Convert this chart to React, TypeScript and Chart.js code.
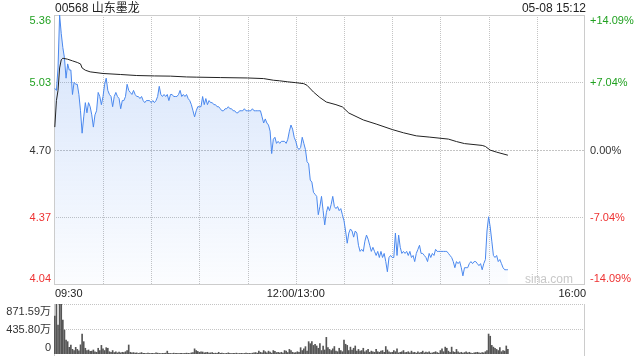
import React, { useEffect, useRef } from "react";
import { Chart, registerables } from "chart.js";

Chart.register(...registerables);

const FONT = '"Liberation Sans", Arial, Helvetica, "Noto Sans CJK SC", sans-serif';

const TITLE = "00568 山东墨龙";
const STAMP = "05-08 15:12";
const WATERMARK = "sina.com";

// minutes since 09:30 (lunch break removed)
const TIME_TICKS = [0, 30, 60, 90, 120, 150, 180, 210, 240, 270, 300, 330];
const TIME_LABELS = ["09:30", "", "", "", "", "12:00/13:00", "", "", "", "", "", "16:00"];

const PRICE_TICKS = [5.36, 5.03, 4.7, 4.37, 4.04];
const PRICE_LABELS = ["5.36", "5.03", "4.70", "4.37", "4.04"];
const PCT_LABELS = ["+14.09%", "+7.04%", "0.00%", "-7.04%", "-14.09%"];
const PREV_CLOSE = 4.7;

const VOL_TICKS = [871.59, 435.8, 0];
const VOL_LABELS = ["871.59万", "435.80万", "0"];

// one price per minute from 09:30 to 15:12
const prices = [
  5.00, 4.99, 5.10, 5.36, 5.27, 5.20, 5.15, 5.05, 5.12, 5.09,
  5.09, 4.97, 5.03, 5.02, 5.02, 4.97, 4.89, 4.78, 4.86, 4.93,
  4.88, 4.93, 4.91, 4.87, 4.81, 4.87, 4.89, 4.98, 4.96, 4.92,
  4.96, 5.02, 5.05, 4.99, 4.97, 4.96, 4.91, 4.96, 4.98, 4.96,
  4.95, 4.90, 4.94, 4.94, 4.96, 5.02, 4.99, 4.98, 4.97, 4.99,
  4.97, 4.96, 4.96, 4.95, 4.96, 4.94, 4.93, 4.94, 4.94, 4.94,
  4.93, 4.94, 4.93, 4.94, 4.96, 5.01, 4.97, 4.96, 4.97, 4.96,
  4.97, 4.94, 4.97, 4.97, 4.96, 4.96, 4.96, 4.97, 4.99, 4.96,
  4.97, 4.96, 4.97, 4.95, 4.94, 4.92, 4.89, 4.86, 4.89, 4.91,
  4.91, 4.91, 4.96, 4.92, 4.95, 4.92, 4.94, 4.93, 4.93, 4.92,
  4.92, 4.91, 4.91, 4.90, 4.89, 4.89, 4.90, 4.90, 4.91, 4.90,
  4.90, 4.89, 4.89, 4.88, 4.88, 4.89, 4.89, 4.89, 4.90, 4.89,
  4.89, 4.89, 4.89, 4.90, 4.89, 4.89, 4.89, 4.89, 4.89, 4.86,
  4.83, 4.85, 4.83, 4.82, 4.79, 4.68, 4.75, 4.76, 4.73, 4.74,
  4.73, 4.74, 4.74, 4.74, 4.73, 4.75, 4.79, 4.82, 4.80, 4.76,
  4.74, 4.71, 4.70, 4.71, 4.76, 4.73, 4.70, 4.64, 4.63, 4.55,
  4.54, 4.49, 4.48, 4.47, 4.38, 4.42, 4.47, 4.40, 4.33, 4.39,
  4.42, 4.40, 4.43, 4.47, 4.42, 4.41, 4.42, 4.40, 4.41, 4.38,
  4.35, 4.30, 4.24, 4.29, 4.31, 4.30, 4.27, 4.30, 4.29, 4.23,
  4.20, 4.21, 4.20, 4.25, 4.28, 4.26, 4.23, 4.20, 4.22, 4.20,
  4.18, 4.20, 4.17, 4.20, 4.17, 4.19, 4.15, 4.10, 4.17, 4.18,
  4.17, 4.17, 4.29, 4.18, 4.28, 4.22, 4.19, 4.20, 4.19, 4.20,
  4.18, 4.20, 4.17, 4.18, 4.15, 4.19, 4.21, 4.23, 4.19, 4.19,
  4.18, 4.17, 4.15, 4.19, 4.17, 4.19, 4.18, 4.21, 4.20, 4.20,
  4.20, 4.20, 4.20, 4.20, 4.20, 4.19, 4.18, 4.17, 4.15, 4.12,
  4.15, 4.14, 4.15, 4.12, 4.08, 4.12, 4.12, 4.12, 4.14, 4.15,
  4.14, 4.15, 4.15, 4.14, 4.13, 4.14, 4.11, 4.14, 4.16, 4.30,
  4.37, 4.32, 4.25, 4.18, 4.17, 4.18, 4.15, 4.16, 4.14, 4.12,
  4.11, 4.11, 4.11,
];

// average price line
const avgTimes = [
  0, 1, 2, 3, 4, 5, 8, 11, 14, 16, 17, 19, 22, 30, 41, 51, 62, 72, 82, 88,
  103, 120, 130, 136, 140, 145, 150, 155, 157, 161, 165, 169, 175, 179, 183,
  192, 200, 210, 217, 225, 233, 245, 250, 255, 266, 268, 271, 275, 282,
];
const avgPrices = [
  4.81, 4.94, 4.99, 5.10, 5.14, 5.148, 5.143, 5.135, 5.127, 5.12, 5.10, 5.089,
  5.081, 5.073, 5.068, 5.063, 5.061, 5.060, 5.056, 5.055, 5.053, 5.051, 5.048,
  5.040, 5.037, 5.032, 5.028, 5.023, 5.015, 4.982, 4.955, 4.933, 4.92, 4.909,
  4.879, 4.845, 4.825, 4.798, 4.782, 4.767, 4.761, 4.751, 4.739, 4.729, 4.72,
  4.715, 4.697, 4.687, 4.672,
];

// volume per minute, in 万 shares
const volumes = [
  663, 866, 506, 866, 866, 593, 418, 244, 215, 116,
  157, 81, 60, 116, 80, 55, 160, 348, 215, 100,
  60, 70, 45, 50, 70, 40, 30, 100, 60, 150,
  90, 60, 110, 100, 40, 30, 60, 25, 40, 20,
  35, 20, 30, 25, 40, 60, 157, 30, 20, 25,
  15, 20, 10, 15, 25, 10, 12, 8, 15, 10,
  10, 12, 8, 20, 15, 10, 8, 12, 10, 15,
  50, 12, 10, 8, 15, 10, 12, 8, 10, 12,
  8, 10, 15, 10, 8, 20, 25, 90, 60, 45,
  30, 40, 35, 20, 25, 30, 15, 20, 25, 12,
  15, 10, 30, 12, 15, 10, 8, 12, 20, 10,
  8, 12, 10, 15, 8, 10, 12, 8, 10, 15,
  10, 12, 8, 15, 20, 25, 15, 50, 30, 20,
  60, 40, 20, 50, 35, 15, 60, 45, 25, 30,
  20, 30, 15, 60, 50, 25, 80, 60, 30, 20,
  25, 40, 30, 110, 60, 90, 128, 50, 215, 180,
  215, 150, 170, 140, 100, 180, 60, 140, 70, 290,
  110, 80, 60, 90, 130, 50, 40, 100, 60, 40,
  244, 170, 150, 60, 120, 70, 100, 140, 50, 80,
  50, 60, 100, 40, 60, 80, 30, 50, 40, 30,
  80, 40, 30, 50, 60, 30, 130, 70, 40, 25,
  30, 60, 40, 90, 20, 30, 40, 60, 25, 30,
  40, 20, 50, 25, 30, 15, 40, 20, 30, 50,
  20, 35, 25, 40, 15, 20, 30, 40, 25, 15,
  60, 90, 40, 120, 100, 50, 30, 120, 40, 30,
  80, 40, 20, 30, 15, 25, 40, 20, 30, 15,
  10, 20, 25, 30, 20, 15, 25, 20, 40, 60,
  348, 310, 150, 120, 100, 80, 60, 110, 40, 60,
  50, 140, 80,
];

const GREEN = "#21a121";
const RED = "#ee3232";
const DARK = "#333333";
const FRAME = "#cccccc";
const DOT = "#c4c4c4";

function tickColor(p: number) {
  if (p > PREV_CLOSE + 1e-9) return GREEN;
  if (p < PREV_CLOSE - 1e-9) return RED;
  return DARK;
}

const pricePlugin = {
  id: "priceDecor",
  beforeDatasetsDraw(chart: any) {
    const { ctx, chartArea: a, scales } = chart;
    const x = scales.x;
    const y = scales.y;
    ctx.save();
    ctx.lineWidth = 1;
    ctx.strokeStyle = DOT;
    ctx.setLineDash([1, 1]);
    TIME_TICKS.slice(1, -1).forEach((t) => {
      const px = Math.round(x.getPixelForValue(t)) + 0.5;
      ctx.beginPath();
      ctx.moveTo(px, a.top);
      ctx.lineTo(px, a.bottom);
      ctx.stroke();
    });
    PRICE_TICKS.slice(1, -1).forEach((p) => {
      const py = Math.round(y.getPixelForValue(p)) + 0.5;
      ctx.setLineDash(p === PREV_CLOSE ? [2, 1] : [1, 1]);
      ctx.beginPath();
      ctx.moveTo(a.left, py);
      ctx.lineTo(a.right, py);
      ctx.stroke();
    });
    ctx.setLineDash([]);
    ctx.strokeStyle = FRAME;
    ctx.strokeRect(a.left + 0.5, a.top + 0.5, a.right - a.left - 1, a.bottom - a.top);
    ctx.restore();
  },
  afterDraw(chart: any) {
    const { ctx, chartArea: a, scales } = chart;
    const x = scales.x;
    const y = scales.y;
    ctx.save();
    ctx.font = `12px ${FONT}`;
    ctx.fillStyle = "#222";
    ctx.textAlign = "left";
    ctx.textBaseline = "alphabetic";
    ctx.fillText(TITLE, a.left + 1, 12);
    ctx.textAlign = "right";
    ctx.fillText(STAMP, a.right + 1, 12);

    ctx.font = `11px ${FONT}`;
    PRICE_TICKS.forEach((p, i) => {
      const py = y.getPixelForValue(p);
      let base = py + 4;
      if (i === 0) base = a.top + 9;
      if (i === PRICE_TICKS.length - 1) base = a.bottom - 2;
      ctx.fillStyle = tickColor(p);
      ctx.textAlign = "right";
      ctx.fillText(PRICE_LABELS[i], a.left - 3, base);
      ctx.textAlign = "left";
      ctx.fillText(PCT_LABELS[i], a.right + 5, base);
    });

    ctx.fillStyle = "#222";
    TIME_TICKS.forEach((t, i) => {
      const lab = TIME_LABELS[i];
      if (!lab) return;
      const px = x.getPixelForValue(t);
      if (i === 0) {
        ctx.textAlign = "left";
        ctx.fillText(lab, a.left + 1, a.bottom + 13);
      } else if (i === TIME_TICKS.length - 1) {
        ctx.textAlign = "right";
        ctx.fillText(lab, a.right + 1, a.bottom + 13);
      } else {
        ctx.textAlign = "center";
        ctx.fillText(lab, px, a.bottom + 13);
      }
    });

    ctx.font = `12px ${FONT}`;
    ctx.fillStyle = "#c8c8c8";
    ctx.textAlign = "right";
    ctx.fillText(WATERMARK, a.right - 12, a.bottom - 1);
    ctx.restore();
  },
};

const volPlugin = {
  id: "volDecor",
  beforeDatasetsDraw(chart: any) {
    const { ctx, chartArea: a, scales } = chart;
    const y = scales.y;
    ctx.save();
    ctx.lineWidth = 1;
    ctx.strokeStyle = DOT;
    ctx.setLineDash([1, 1]);
    VOL_TICKS.slice(0, -1).forEach((v) => {
      const py = Math.round(y.getPixelForValue(v)) + 0.5;
      ctx.beginPath();
      ctx.moveTo(a.left, py);
      ctx.lineTo(a.right, py);
      ctx.stroke();
    });
    ctx.setLineDash([]);
    ctx.strokeStyle = FRAME;
    ctx.beginPath();
    ctx.moveTo(a.left + 0.5, a.top);
    ctx.lineTo(a.left + 0.5, a.bottom + 2);
    ctx.moveTo(a.right - 0.5, a.top);
    ctx.lineTo(a.right - 0.5, a.bottom + 2);
    ctx.stroke();
    ctx.restore();
  },
  afterDraw(chart: any) {
    const { ctx, chartArea: a, scales } = chart;
    const y = scales.y;
    ctx.save();
    ctx.font = `11px ${FONT}`;
    ctx.fillStyle = DARK;
    ctx.textAlign = "right";
    VOL_TICKS.forEach((v, i) => {
      let base = y.getPixelForValue(v) + 4;
      if (i === 0) base = a.top + 11;
      if (i === VOL_TICKS.length - 1) base = a.bottom - 3;
      ctx.fillText(VOL_LABELS[i], a.left - 3, base);
    });
    ctx.restore();
  },
};

export default function App() {
  const priceRef = useRef<HTMLCanvasElement>(null);
  const volRef = useRef<HTMLCanvasElement>(null);

  useEffect(() => {
    const priceChart = new Chart(priceRef.current as HTMLCanvasElement, {
      type: "line",
      data: {
        datasets: [
          {
            label: "均价",
            data: avgTimes.map((t, i) => ({ x: t, y: avgPrices[i] })),
            borderColor: "#222222",
            borderWidth: 1,
            pointRadius: 0,
            fill: false,
            tension: 0,
          },
          {
            label: "价格",
            data: prices.map((p, i) => ({ x: i, y: p })),
            borderColor: "#4a88ee",
            borderWidth: 1,
            pointRadius: 0,
            tension: 0,
            fill: "start",
            backgroundColor: (c: any) => {
              const ch = c.chart;
              const ca = ch.chartArea;
              if (!ca) return "rgba(74,136,238,0.12)";
              const g = ch.ctx.createLinearGradient(0, ca.top, 0, ca.bottom);
              g.addColorStop(0, "rgba(74,136,238,0.24)");
              g.addColorStop(1, "rgba(74,136,238,0.02)");
              return g;
            },
          },
        ],
      },
      options: {
        responsive: false,
        animation: false,
        devicePixelRatio: 1,
        events: [],
        layout: { padding: { left: 54, right: 55, top: 15, bottom: 16 } },
        scales: {
          x: { type: "linear", min: -0.5, max: 330, display: false },
          y: { type: "linear", min: 4.04, max: 5.36, display: false },
        },
        plugins: { legend: { display: false }, tooltip: { enabled: false } },
      },
      plugins: [pricePlugin],
    } as any);

    const volChart = new Chart(volRef.current as HTMLCanvasElement, {
      type: "bar",
      data: {
        datasets: [
          {
            label: "成交量",
            data: volumes.map((v, i) => ({ x: i, y: v })),
            backgroundColor: "#555555",
            borderWidth: 0,
            barThickness: 1,
          },
        ],
      },
      options: {
        responsive: false,
        animation: false,
        devicePixelRatio: 1,
        events: [],
        layout: { padding: { left: 54, right: 55, top: 4, bottom: 6 } },
        scales: {
          x: { type: "linear", min: -0.5, max: 330, offset: false, display: false },
          y: { type: "linear", min: 0, max: 871.59, display: false },
        },
        plugins: { legend: { display: false }, tooltip: { enabled: false } },
      },
      plugins: [volPlugin],
    } as any);

    return () => {
      priceChart.destroy();
      volChart.destroy();
    };
  }, []);

  return (
    <div style={{ position: "fixed", left: 0, top: 0, width: 640, height: 360, background: "#fff" }}>
      <canvas ref={priceRef} width={640} height={300} style={{ position: "absolute", left: 0, top: 0 }} />
      <canvas ref={volRef} width={640} height={60} style={{ position: "absolute", left: 0, top: 300 }} />
    </div>
  );
}
